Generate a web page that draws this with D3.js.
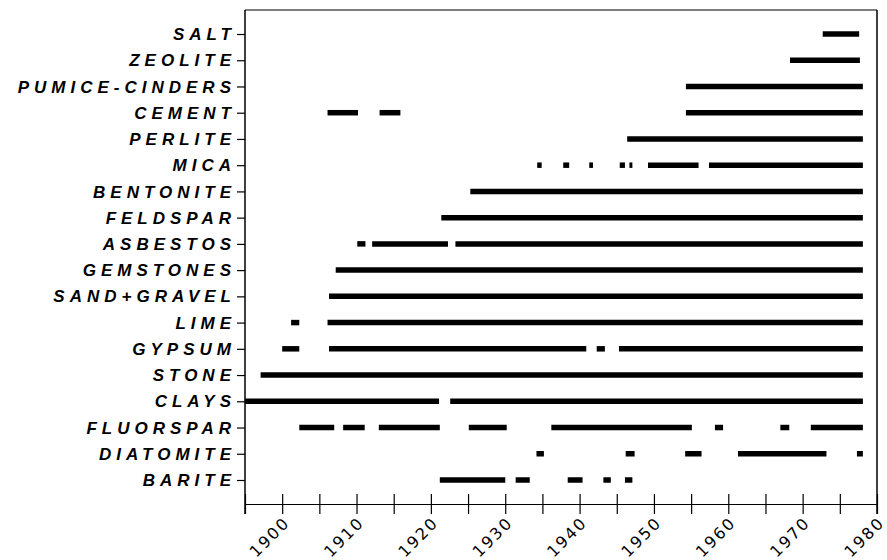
<!DOCTYPE html>
<html><head><meta charset="utf-8">
<script src="https://cdn.jsdelivr.net/npm/d3@7"></script>
<style>
html,body{margin:0;padding:0;background:#fff;}
svg{display:block;}
</style></head>
<body>
<svg id="chart" width="887" height="560"></svg>
<script>
// ---- DATA ----
const categories = ["SALT","ZEOLITE","PUMICE-CINDERS","CEMENT","PERLITE","MICA","BENTONITE","FELDSPAR","ASBESTOS","GEMSTONES","SAND+GRAVEL","LIME","GYPSUM","STONE","CLAYS","FLUORSPAR","DIATOMITE","BARITE"];
// production periods [start year, end year] per commodity
const salt       = [[1972.7,1977.6]];
const zeolite    = [[1968.3,1977.7]];
const pumice     = [[1954.3,1978.1]];
const cement     = [[1906.1,1910.2],[1913.1,1915.9],[1954.3,1978.1]];
const perlite    = [[1946.4,1978.1]];
const mica       = [[1934.3,1934.9],[1937.8,1938.6],[1941.3,1941.8],[1945.4,1946.1],[1946.7,1947.1],[1949.2,1956.0],[1957.4,1978.1]];
const bentonite  = [[1925.3,1978.1]];
const feldspar   = [[1921.4,1978.1]];
const asbestos   = [[1910.1,1911.2],[1912.1,1922.3],[1923.3,1978.1]];
const gemstones  = [[1907.2,1978.1]];
const sandGravel = [[1906.3,1978.1]];
const lime       = [[1901.2,1902.3],[1906.1,1978.1]];
const gypsum     = [[1900.0,1902.3],[1906.3,1940.9],[1942.3,1943.4],[1945.3,1978.1]];
const stone      = [[1897.1,1978.1]];
const clays      = [[1895.0,1921.1],[1922.6,1978.1]];
const fluorspar  = [[1902.3,1907.0],[1908.2,1911.1],[1913.0,1921.2],[1925.1,1930.2],[1936.2,1955.1],[1958.2,1959.3],[1967.0,1968.2],[1971.1,1978.1]];
const diatomite  = [[1934.2,1935.2],[1946.2,1947.4],[1954.2,1956.4],[1961.3,1973.2],[1977.3,1978.1]];
const barite     = [[1921.2,1930.0],[1931.4,1933.3],[1938.4,1940.4],[1943.2,1944.2],[1946.1,1947.1]];
const periods = [salt,zeolite,pumice,cement,perlite,mica,bentonite,feldspar,asbestos,gemstones,sandGravel,lime,gypsum,stone,clays,fluorspar,diatomite,barite];
const yearDomain = [1895, 1980];
const minorTicks = d3.range(1895, 1981, 5);
const tickLabels = [1900,1910,1920,1930,1940,1950,1960,1970,1980];

// ---- LAYOUT ----
const svg = d3.select("#chart");
const plotL = 245, plotR = 877, plotT = 10, axisY = 504;
const x = d3.scaleLinear().domain(yearDomain).range([plotL, plotR]);
const y = d3.scalePoint().domain(categories).range([plotT, axisY]).padding(0.915);

// frame: top line, right line
svg.append("line").attr("x1",plotL).attr("x2",plotR).attr("y1",plotT).attr("y2",plotT)
  .attr("stroke","#000").attr("stroke-width",1.2);
svg.append("line").attr("x1",plotR).attr("x2",plotR).attr("y1",plotT).attr("y2",axisY+10)
  .attr("stroke","#000").attr("stroke-width",1.5);

// left axis
const yAxis = d3.axisLeft(y).tickSize(8).tickSizeOuter(0).tickFormat("");
const gy = svg.append("g").attr("transform",`translate(${plotL},0)`).call(yAxis);
gy.select(".domain").remove();
gy.selectAll(".tick line").attr("stroke","#000").attr("stroke-width",1.2);
svg.append("line").attr("x1",plotL).attr("x2",plotL).attr("y1",plotT).attr("y2",axisY+10)
  .attr("stroke","#000").attr("stroke-width",1.5);

const ls = 5.0;
svg.append("g").selectAll("text").data(categories).join("text")
  .attr("x", 231 + ls).attr("y", d => y(d))
  .attr("dy","0.36em")
  .attr("text-anchor","end")
  .style("font-family","'Liberation Sans', Arial, sans-serif")
  .style("font-weight","bold").style("font-style","italic")
  .style("font-size","17px").style("letter-spacing", ls + "px")
  .attr("fill","#000")
  .text(d => d);

// bottom axis
const xAxis = d3.axisBottom(x).tickValues(minorTicks).tickSize(10).tickSizeOuter(0).tickFormat("");
const gx = svg.append("g").attr("transform",`translate(0,${axisY})`).call(xAxis);
gx.select(".domain").attr("stroke","#000").attr("stroke-width",1);
gx.selectAll(".tick line").attr("y1",-10).attr("stroke","#000").attr("stroke-width",1.2);

const tls = 2;
svg.append("g").selectAll("text").data(tickLabels).join("text")
  .attr("transform", d => `translate(${x(d)-1},517) rotate(-45)`)
  .attr("text-anchor","end")
  .attr("dx", tls)
  .attr("dy","0.72em")
  .style("font-family","'DejaVu Sans', sans-serif")
  .style("font-size","16px").style("letter-spacing", tls + "px")
  .attr("fill","#000")
  .text(d => d);

// bars
const rows = svg.append("g").selectAll("g").data(categories).join("g");
rows.each(function(cat, i){
  d3.select(this).selectAll("line").data(periods[i]).join("line")
    .attr("x1", d => x(d[0])).attr("x2", d => x(d[1]))
    .attr("y1", y(cat)).attr("y2", y(cat))
    .attr("stroke","#000").attr("stroke-width",5.5);
});
</script>
</body></html>
